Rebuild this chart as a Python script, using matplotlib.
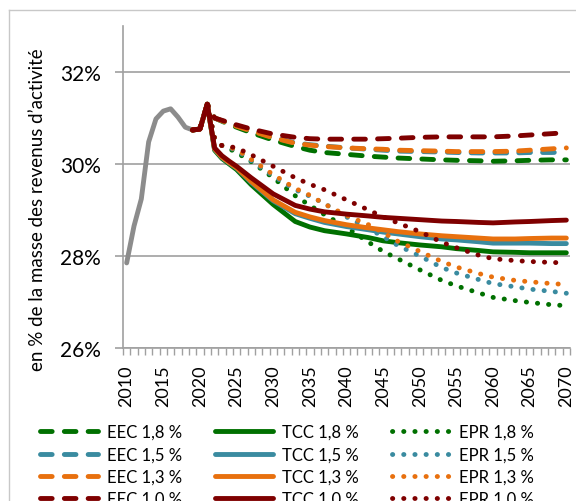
import numpy as np
import matplotlib.pyplot as plt
from matplotlib.lines import Line2D

plt.rcParams['font.family'] = ['Lato', 'DejaVu Sans']

# historical series (grey)
hist_years = list(range(2010, 2020))
hist_vals = [27.85, 28.65, 29.24, 30.48, 30.98, 31.15, 31.2, 31.02, 30.8, 30.74]

# projection years, shared start 2019-2021
start_years = [2019, 2020, 2021]
start_vals = [30.74, 30.76, 31.3]
proj_years = [2022, 2023, 2024, 2025, 2027, 2030, 2033, 2035, 2037, 2040, 2043,
              2045, 2047, 2050, 2053, 2055, 2058, 2060, 2063, 2065, 2068, 2070]

rates = ['1,8', '1,5', '1,3', '1,0']

eec_18 = [31.0, 30.93, 30.86, 30.8, 30.68, 30.52, 30.38, 30.3, 30.25, 30.21, 30.17,
          30.15, 30.13, 30.11, 30.09, 30.08, 30.07, 30.06, 30.07, 30.08, 30.09, 30.09]
eec_15 = [31.0, 30.94, 30.88, 30.83, 30.73, 30.58, 30.46, 30.42, 30.39, 30.35, 30.32,
          30.30, 30.28, 30.27, 30.26, 30.25, 30.24, 30.24, 30.24, 30.25, 30.25, 30.26]
eec_13 = [31.0, 30.94, 30.88, 30.82, 30.72, 30.57, 30.45, 30.41, 30.38, 30.35, 30.33,
          30.32, 30.30, 30.29, 30.28, 30.27, 30.27, 30.27, 30.28, 30.30, 30.33, 30.35]
eec_10 = [31.0, 30.95, 30.9, 30.85, 30.76, 30.65, 30.58, 30.55, 30.54, 30.54, 30.54,
          30.55, 30.56, 30.58, 30.59, 30.59, 30.59, 30.59, 30.61, 30.63, 30.66, 30.68]

tcc_18 = [30.3, 30.12, 30.0, 29.88, 29.55, 29.12, 28.75, 28.63, 28.55, 28.48, 28.4,
          28.33, 28.29, 28.24, 28.2, 28.16, 28.12, 28.09, 28.08, 28.07, 28.07, 28.07]
tcc_15 = [30.32, 30.14, 30.02, 29.91, 29.6, 29.2, 28.92, 28.82, 28.73, 28.64, 28.57,
          28.52, 28.48, 28.42, 28.37, 28.35, 28.31, 28.28, 28.28, 28.28, 28.27, 28.27]
tcc_13 = [30.33, 30.15, 30.03, 29.92, 29.62, 29.22, 28.95, 28.85, 28.77, 28.68, 28.61,
          28.57, 28.53, 28.48, 28.44, 28.42, 28.39, 28.37, 28.37, 28.38, 28.39, 28.39]
tcc_10 = [30.35, 30.18, 30.06, 29.95, 29.7, 29.35, 29.1, 29.02, 28.96, 28.91, 28.87,
          28.84, 28.82, 28.79, 28.76, 28.75, 28.73, 28.72, 28.74, 28.75, 28.77, 28.78]

epr_18 = [30.55, 30.4, 30.33, 30.25, 30.05, 29.7, 29.31, 29.1, 28.9, 28.62, 28.3,
          28.1, 27.94, 27.7, 27.47, 27.35, 27.2, 27.1, 27.03, 26.99, 26.94, 26.92]
epr_15 = [30.55, 30.4, 30.35, 30.3, 30.07, 29.74, 29.44, 29.3, 29.14, 28.85, 28.6,
          28.42, 28.23, 28.0, 27.75, 27.63, 27.49, 27.4, 27.33, 27.28, 27.23, 27.19]
epr_13 = [30.55, 30.4, 30.36, 30.32, 30.1, 29.77, 29.47, 29.32, 29.13, 28.88, 28.68,
          28.51, 28.32, 28.1, 27.88, 27.76, 27.62, 27.54, 27.47, 27.44, 27.4, 27.38]
epr_10 = [30.55, 30.4, 30.38, 30.35, 30.2, 29.95, 29.7, 29.56, 29.44, 29.22, 29.0,
          28.85, 28.72, 28.53, 28.3, 28.18, 28.02, 27.94, 27.9, 27.88, 27.86, 27.85]

colors = ['#007000', '#3A8BA0', '#E8700E', '#7F0000']
grey = '#8C8C8C'
axis_grey = '#A0A0A0'
lw = 3.5
dashed = (0, (2.4, 2.5))
dotted = (0, (0.05, 2.25))

fig = plt.figure(figsize=(5.76, 5.02), dpi=100)
ax = fig.add_axes([123/576, 1-349/502, (570-123)/576, (349-27)/502])

# outer chart border
fig.add_artist(Line2D([9/576, 9/576], [0, 1-11/502], color='#C8C8C8', lw=1))
fig.add_artist(Line2D([9/576, 1], [1-11/502, 1-11/502], color='#C8C8C8', lw=1))

series = {'EEC': [eec_18, eec_15, eec_13, eec_10],
          'TCC': [tcc_18, tcc_15, tcc_13, tcc_10],
          'EPR': [epr_18, epr_15, epr_13, epr_10]}
styles = {'EEC': dashed, 'TCC': '-', 'EPR': dotted}

x_all = start_years + proj_years
ax.plot(hist_years, hist_vals, color=grey, lw=lw, solid_capstyle='round',
        solid_joinstyle='round', zorder=3)

handles = {}
for i, r in enumerate(rates):
    for kind in ['EEC', 'TCC', 'EPR']:
        vals = start_vals + series[kind][i]
        ln, = ax.plot(x_all, vals, color=colors[i], lw=lw, linestyle=styles[kind],
                      dash_capstyle='round', solid_capstyle='round',
                      solid_joinstyle='round', zorder=3,
                      label=f'{kind} {r} %')
        handles[(kind, i)] = ln

ax.set_xlim(2009.5, 2070.5)
ax.set_ylim(26, 33)
ax.set_yticks([26, 28, 30, 32])
ax.set_yticklabels(['26%', '28%', '30%', '32%'], fontsize=15)
ax.set_xticks(range(2010, 2071, 5))
ax.set_xticklabels([str(y) for y in range(2010, 2071, 5)], rotation=90, fontsize=13)
ax.set_xticks(np.arange(2009.5, 2071, 1), minor=True)
ax.tick_params(axis='x', which='major', length=0, pad=12)
ax.tick_params(axis='x', which='minor', length=5, width=1, color=axis_grey)
ax.tick_params(axis='y', length=6, width=1.2, color=axis_grey, pad=10)
ax.grid(axis='y', color=axis_grey, lw=1.2, zorder=1)
for s in ['top', 'right']:
    ax.spines[s].set_visible(False)
for s in ['left', 'bottom']:
    ax.spines[s].set_color(axis_grey)
    ax.spines[s].set_linewidth(1.2)

fig.text(38/576, 1-210/502, "en % de la masse des revenus d\u2019activit\u00e9",
         rotation=90, ha='center', va='center', fontsize=13.5)

order = [handles[(k, i)] for k in ['EEC', 'TCC', 'EPR'] for i in range(4)]
fig.legend(order, [h.get_label() for h in order], ncol=3, frameon=False,
           loc='upper left', bbox_to_anchor=(40/576, 1-425/502),
           borderaxespad=0, borderpad=0, fontsize=12, handlelength=3.45,
           handletextpad=0.55, columnspacing=2.0, labelspacing=0.38)

fig.savefig('out.png', dpi=100)
